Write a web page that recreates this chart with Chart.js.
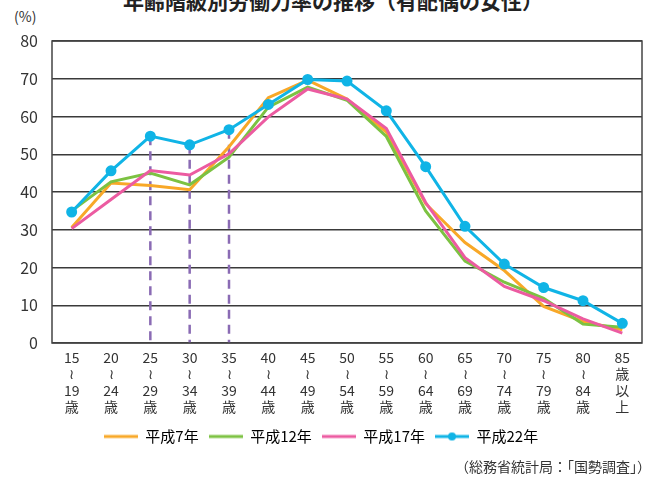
<!DOCTYPE html>
<html>
<head>
<meta charset="utf-8">
<script src="https://cdn.jsdelivr.net/npm/chart.js@4"></script>
<style>
  html, body { margin: 0; padding: 0; background: #fff; }
  #wrap { position: relative; width: 657px; height: 480px; overflow: hidden; font-family: "Noto Sans CJK JP", sans-serif; color: #333; }
  #title { position: absolute; left: 0; width: 666px; top: -15px; text-align: center; font-size: 21px; font-weight: bold; color: #222; white-space: nowrap; }
  #unit { position: absolute; left: 14px; top: 6px; font-size: 14px; color: #333; }
  #source { position: absolute; right: 6px; top: 456px; font-size: 14px; color: #333; white-space: nowrap; }
  canvas { position: absolute; left: 0; top: 0; }
</style>
</head>
<body>
<div id="wrap">
  <div id="title">年齢階級別労働力率の推移（有配偶の女性）</div>
  <div id="unit">(%)</div>
  <canvas id="c" width="657" height="480"></canvas>
  <div id="source">（総務省統計局：「国勢調査」）</div>
</div>
<script>
// age groups (x axis)
var ageGroups = ['15〜19歳','20〜24歳','25〜29歳','30〜34歳','35〜39歳','40〜44歳','45〜49歳',
  '50〜54歳','55〜59歳','60〜64歳','65〜69歳','70〜74歳','75〜79歳','80〜84歳','85歳以上'];

// labour force participation rate (%)
var h7  = [30.6, 42.4, 41.7, 40.6, 52.0, 65.0, 69.6, 64.6, 55.9, 36.9, 26.6, 19.2,  9.7, 5.7, 3.5];
var h12 = [35.0, 42.7, 45.0, 41.9, 49.2, 62.5, 67.8, 64.3, 54.7, 35.0, 21.7, 16.1, 11.8, 5.0, 4.2];
var h17 = [30.3, 38.0, 45.7, 44.5, 50.1, 59.9, 67.3, 64.6, 56.8, 37.2, 22.6, 15.0, 11.2, 6.4, 2.6];
var h22 = [34.7, 45.6, 54.8, 52.5, 56.5, 63.2, 69.8, 69.4, 61.5, 46.7, 30.9, 20.9, 14.7, 11.2, 5.2];

var seriesNames = ['平成7年', '平成12年', '平成17年', '平成22年'];
var yTicks = [0, 10, 20, 30, 40, 50, 60, 70, 80];
// groups marked with a dashed drop line
var markedGroups = ['25〜29歳', '30〜34歳', '35〜39歳'];

var colors = ['#f8a828', '#7cc242', '#ec5ba1', '#10b4e6'];

function tickLines(s) {
  if (s.indexOf('以上') >= 0) return [s.replace('歳以上', ''), '歳', '以', '上'];
  var p = s.replace('歳', '').split('〜');
  return [p[0], '≀', p[1], '歳'];
}

function legendIcon(color, dot) {
  var cv = document.createElement('canvas');
  cv.width = 34; cv.height = 10;
  var g = cv.getContext('2d');
  g.strokeStyle = color; g.lineWidth = 3;
  g.beginPath(); g.moveTo(0, 5); g.lineTo(34, 5); g.stroke();
  if (dot) { g.fillStyle = color; g.beginPath(); g.arc(17, 5, 4, 0, Math.PI * 2); g.fill(); }
  return cv;
}

var dropLines = {
  id: 'dropLines',
  beforeDatasetsDraw: function(chart) {
    var ctx = chart.ctx, y = chart.scales.y, x = chart.scales.x;
    ctx.save();
    ctx.strokeStyle = '#8a6bb4';
    ctx.lineWidth = 2.5;
    ctx.setLineDash([9, 6]);
    markedGroups.forEach(function(g) {
      var i = ageGroups.indexOf(g);
      var px = x.getPixelForValue(i);
      ctx.beginPath();
      ctx.moveTo(px, y.getPixelForValue(h22[i]));
      ctx.lineTo(px, y.getPixelForValue(0));
      ctx.stroke();
    });
    ctx.restore();
  }
};

var frame = {
  id: 'frame',
  afterDraw: function(chart) {
    var a = chart.chartArea, ctx = chart.ctx;
    ctx.save();
    ctx.strokeStyle = '#444';
    ctx.lineWidth = 1.5;
    ctx.strokeRect(a.left, a.top, a.right - a.left, a.bottom - a.top);
    ctx.restore();
  }
};

var series = [h7, h12, h17, h22];
var datasets = series.map(function(d, k) {
  return {
    label: seriesNames[k],
    data: d,
    borderColor: colors[k],
    backgroundColor: colors[k],
    borderWidth: 3,
    pointRadius: k === 3 ? 4 : 0,
    pointHoverRadius: k === 3 ? 4 : 0,
    tension: 0,
    fill: false,
    order: 3 - k
  };
});

new Chart(document.getElementById('c'), {
  type: 'line',
  data: { labels: ageGroups, datasets: datasets },
  options: {
    responsive: false,
    animation: false,
    layout: { padding: { top: 41, right: 15, left: 0, bottom: 26 } },
    plugins: {
      title: { display: false },
      tooltip: { enabled: false },
      legend: {
        position: 'bottom',
        labels: {
          usePointStyle: true,
          pointStyleWidth: 34,
          padding: 10,
          color: '#333',
          font: { family: '"Noto Sans CJK JP", sans-serif', size: 15 },
          generateLabels: function(chart) {
            return chart.data.datasets.map(function(ds, i) {
              return {
                text: ds.label,
                fillStyle: ds.borderColor,
                strokeStyle: ds.borderColor,
                lineWidth: 0,
                pointStyle: legendIcon(ds.borderColor, i === 3),
                hidden: false,
                datasetIndex: i
              };
            });
          }
        }
      }
    },
    scales: {
      x: {
        offset: true,
        grid: { display: false, drawTicks: false },
        border: { display: false },
        ticks: {
          autoSkip: false,
          maxRotation: 0,
          padding: 6,
          color: '#333',
          font: { family: '"Noto Sans CJK JP", sans-serif', size: 14, lineHeight: 1.18 },
          callback: function(v, i) { return tickLines(ageGroups[i]); }
        },
        afterFit: function(s) { s.height = 76; }
      },
      y: {
        min: 0,
        max: 80,
        afterBuildTicks: function(s) { s.ticks = yTicks.map(function(v) { return { value: v }; }); },
        grid: { color: '#3a3a3a', lineWidth: 1.5, drawTicks: false },
        border: { display: false },
        ticks: {
          padding: 14,
          color: '#333',
          font: { family: '"Noto Sans CJK JP", sans-serif', size: 16 }
        },
        afterFit: function(s) { s.width = 52; }
      }
    }
  },
  plugins: [dropLines, frame]
});
</script>
</body>
</html>
